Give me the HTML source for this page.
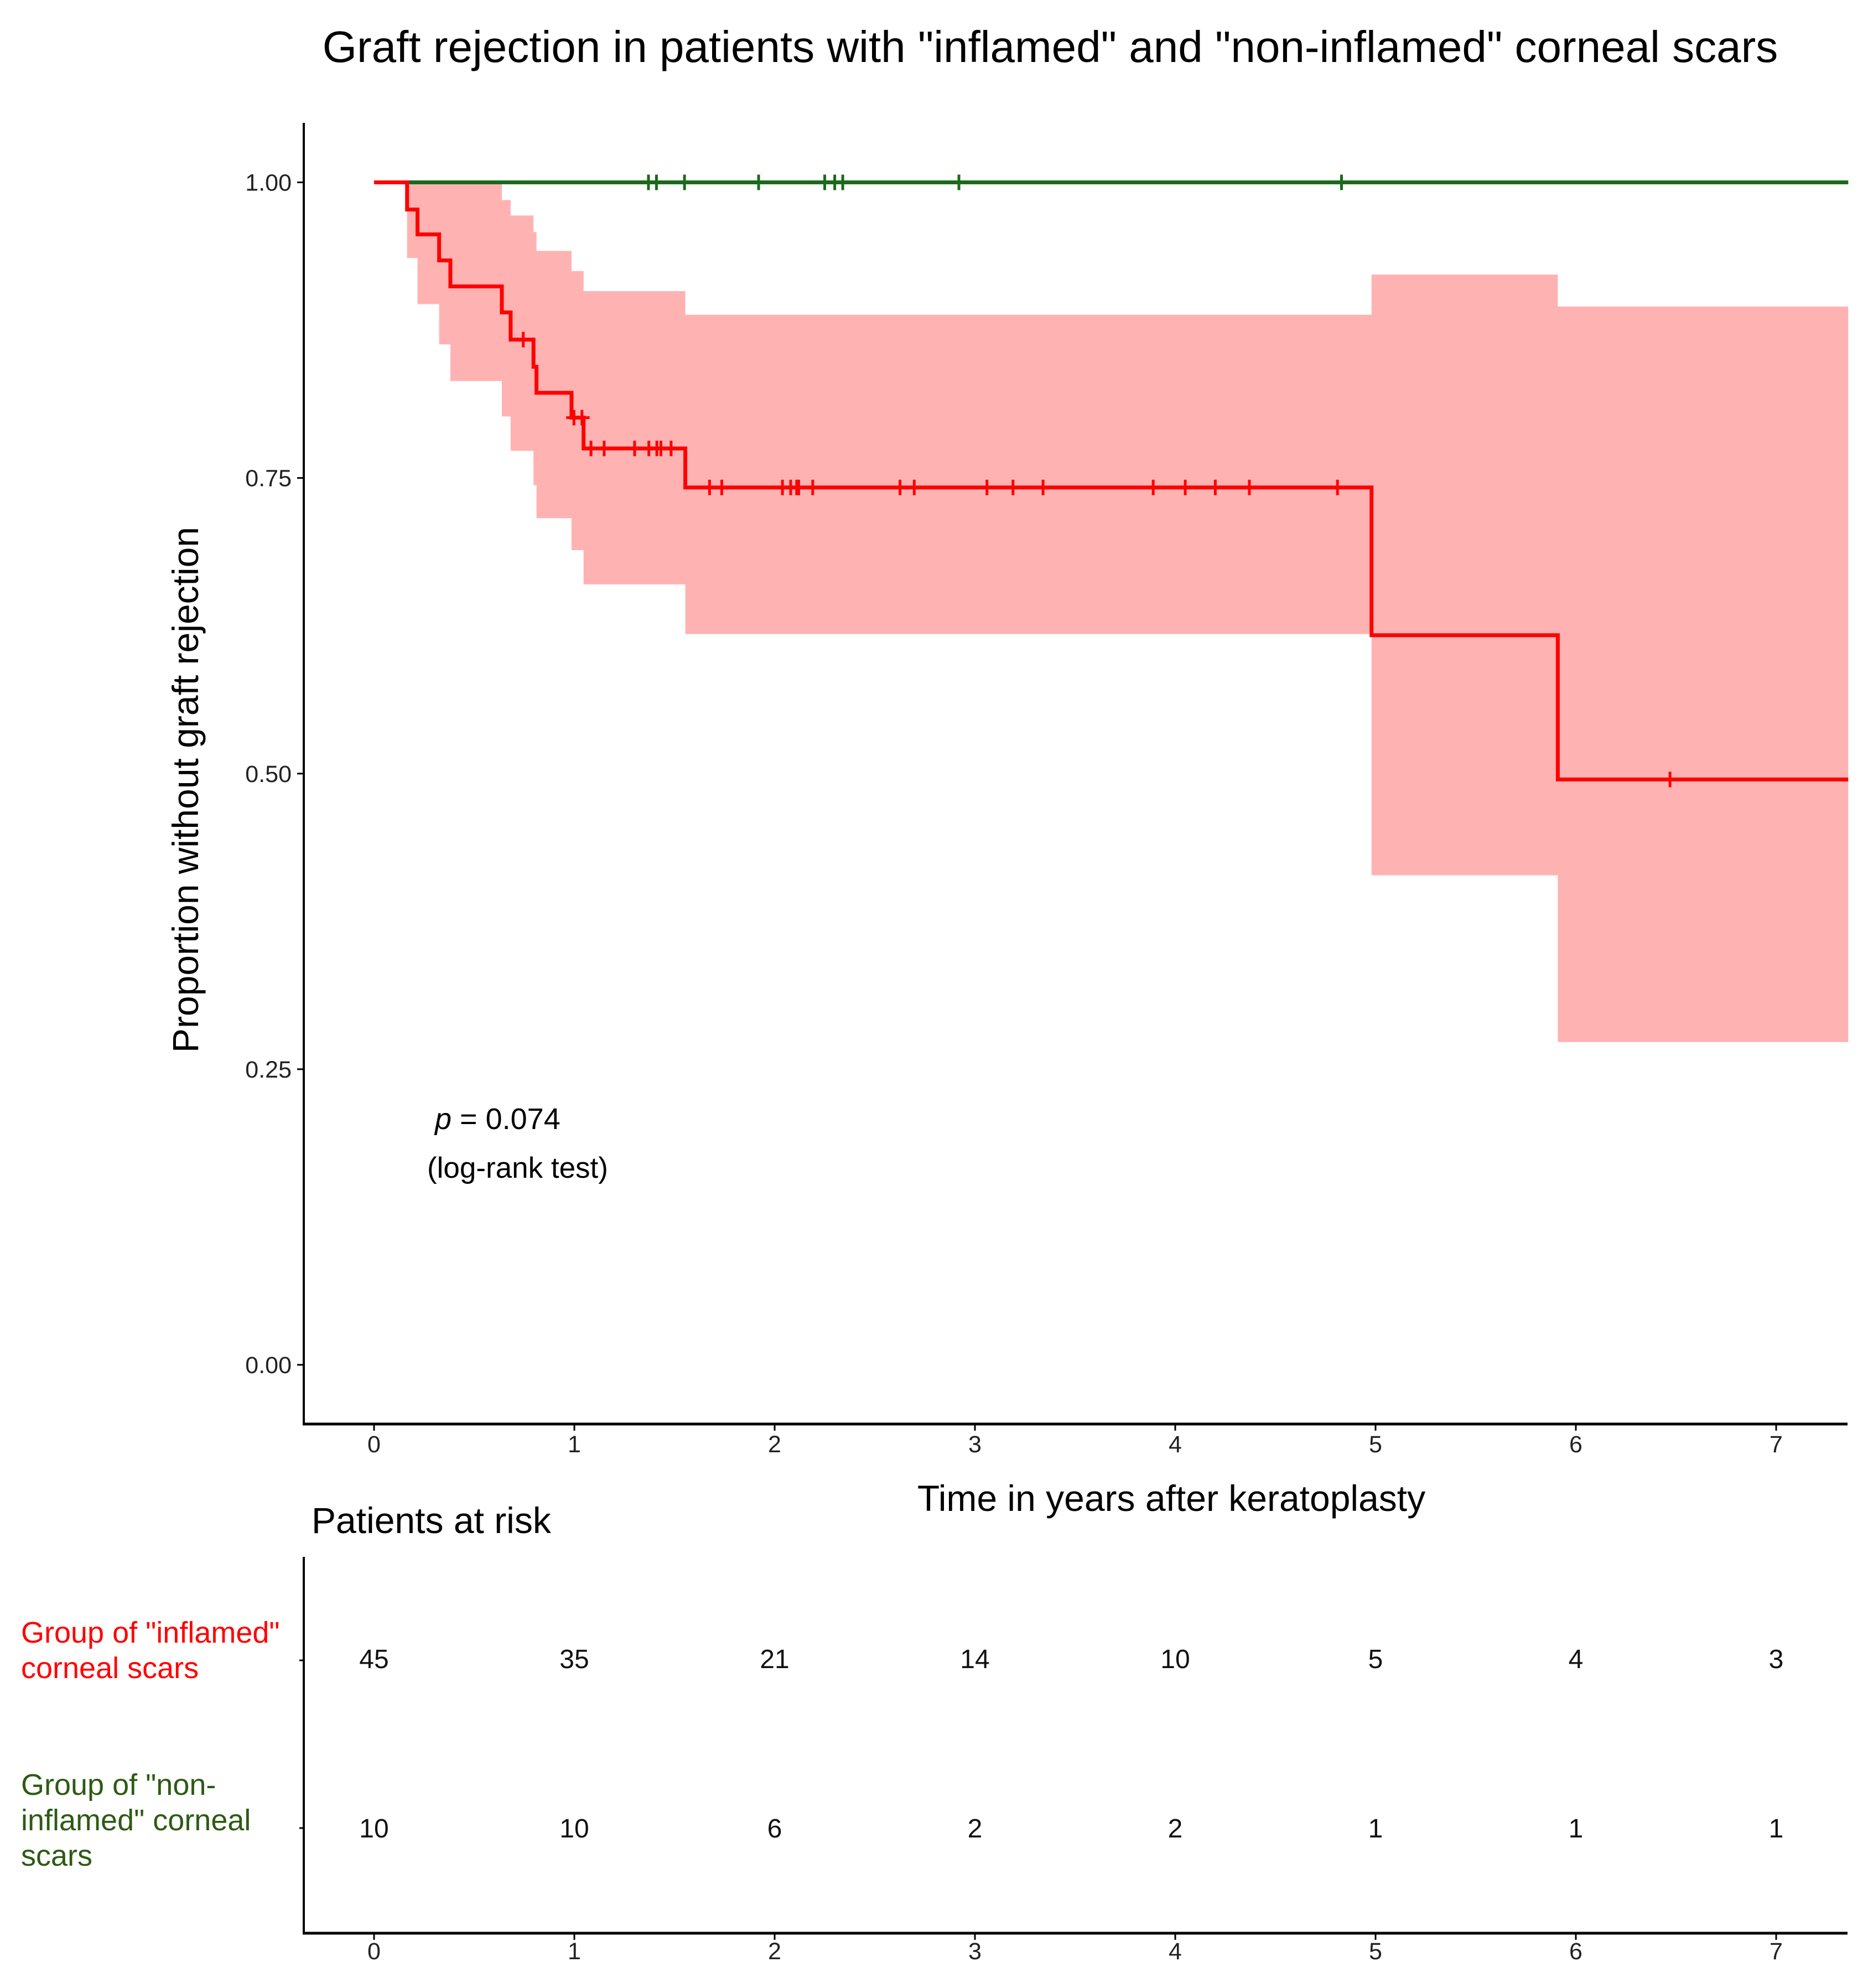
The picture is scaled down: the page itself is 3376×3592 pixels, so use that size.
<!DOCTYPE html>
<html><head><meta charset="utf-8"><style>
html,body{margin:0;padding:0;background:#fff;}
svg{display:block;font-family:"Liberation Sans",Arial,sans-serif;}
</style></head><body>
<svg id="chart" width="3376" height="3592" viewBox="0 0 3376 3592" xmlns="http://www.w3.org/2000/svg">
<text x="1898" y="112" font-size="80" text-anchor="middle">Graft rejection in patients with "inflamed" and "non-inflamed" corneal scars</text>
<g id="ci"></g>
<g id="lines"></g>
<g id="axes"></g>
<text transform="translate(358,1427) rotate(-90)" font-size="66" text-anchor="middle">Proportion without graft rejection</text>
<text x="2117" y="2730" font-size="66" text-anchor="middle">Time in years after keratoplasty</text>
<text x="786" y="2040" font-size="54"><tspan font-style="italic">p</tspan> = 0.074</text>
<text x="772" y="2128" font-size="53">(log-rank test)</text>
<text x="563" y="2770" font-size="66">Patients at risk</text>
<g fill="#ff0000" font-size="54">
<text x="38" y="2968">Group of "inflamed"</text><text x="38" y="3032">corneal scars</text></g>
<g fill="#2d5a14" font-size="54">
<text x="38" y="3243">Group of "non-</text><text x="38" y="3307">inflamed" corneal</text><text x="38" y="3371">scars</text></g>
<g id="risk"></g>
</svg>
<script>
const timeTicks = [0,1,2,3,4,5,6,7];
const yTicks = [0, 0.25, 0.5, 0.75, 1.0];
const yTickLabels = ["0.00","0.25","0.50","0.75","1.00"];
const redTimes = [0, 0.165, 0.217, 0.325, 0.381, 0.638, 0.682, 0.796, 0.811, 0.986, 1.046, 1.554, 4.98, 5.91];
const redSurv  = [1, 0.977, 0.956, 0.934, 0.912, 0.890, 0.867, 0.844, 0.822, 0.801, 0.775, 0.742, 0.617, 0.495];
const redUpper = [1, 1, 1, 1, 1, 0.985, 0.972, 0.958, 0.942, 0.925, 0.908, 0.888, 0.922, 0.895];
const redLower = [1, 0.936, 0.897, 0.863, 0.832, 0.802, 0.773, 0.744, 0.716, 0.689, 0.660, 0.618, 0.414, 0.273];
const redCensor = [0.745, 0.998, 1.038, 1.083, 1.149, 1.301, 1.372, 1.412, 1.432, 1.483, 1.675, 1.736, 2.039, 2.08, 2.11, 2.12, 2.19, 2.626, 2.697, 3.06, 3.19, 3.34, 3.89, 4.05, 4.20, 4.37, 4.81, 6.47];
const greenCensor = [1.37, 1.41, 1.55, 1.92, 2.25, 2.30, 2.34, 2.92, 4.83];
const riskInflamed = [45,35,21,14,10,5,4,3];
const riskNonInflamed = [10,10,6,2,2,1,1,1];
const tMax = 7.36;

const NS="http://www.w3.org/2000/svg";
const X = t => 676 + t*362;
const Y = s => 2466 - s*(2466-329.5);
function mk(tag, attrs, parent, text){const e=document.createElementNS(NS,tag);for(const k in attrs)e.setAttribute(k,attrs[k]);if(text!==undefined)e.textContent=text;parent.appendChild(e);return e;}
function survAt(t){let s=1;for(let i=0;i<redTimes.length;i++){if(redTimes[i]<=t)s=redSurv[i];}return s;}
const ci=document.getElementById('ci'), lines=document.getElementById('lines'), axes=document.getElementById('axes'), risk=document.getElementById('risk');

let up=[],lo=[];
for(let i=0;i<redTimes.length;i++){
  const t0=redTimes[i], t1=i+1<redTimes.length?redTimes[i+1]:tMax;
  up.push([X(t0),Y(redUpper[i])],[X(t1),Y(redUpper[i])]);
  lo.push([X(t0),Y(redLower[i])],[X(t1),Y(redLower[i])]);
}
const pts=up.concat(lo.reverse()).map(p=>p.join(',')).join(' ');
const band=mk('polygon',{points:pts,fill:'#ffb2b2',stroke:'none'},ci);



const g=mk('line',{x1:X(0),y1:Y(1),x2:X(tMax),y2:Y(1),stroke:'#1a6a1a','stroke-width':7},lines);


greenCensor.forEach(t=>{
  const c=mk('path',{d:`M${X(t)-14},${Y(1)}h28M${X(t)},${Y(1)-14}v28`,stroke:'#1a6a1a','stroke-width':5},lines);
  
  
});

let d=`M${X(redTimes[0])},${Y(redSurv[0])}`;
for(let i=1;i<redTimes.length;i++){d+=`H${X(redTimes[i])}V${Y(redSurv[i])}`;}
d+=`H${X(tMax)}`;
const r=mk('path',{d:d,fill:'none',stroke:'#ff0000','stroke-width':7},lines);


redCensor.forEach(t=>{
  const y=Y(survAt(t));
  const c=mk('path',{d:`M${X(t)-14},${y}h28M${X(t)},${y-14}v28`,stroke:'#ff0000','stroke-width':5},lines);
  
  
});

mk('line',{x1:549,y1:222,x2:549,y2:2575,stroke:'#000','stroke-width':4},axes);
mk('line',{x1:547,y1:2573,x2:3339,y2:2573,stroke:'#000','stroke-width':5},axes);
yTicks.forEach((v,i)=>{
  mk('line',{x1:537,y1:Y(v),x2:549,y2:Y(v),stroke:'#000','stroke-width':3},axes);
  const tl=mk('text',{x:527,y:Y(v)+15,'font-size':43,'text-anchor':'end',fill:'#222'},axes,yTickLabels[i]);
  
  
});
timeTicks.forEach(t=>{
  mk('line',{x1:X(t),y1:2573,x2:X(t),y2:2585,stroke:'#000','stroke-width':3},axes);
  const tl=mk('text',{x:X(t),y:2624,'font-size':43,'text-anchor':'middle',fill:'#222'},axes,String(t));
  
  
});

mk('line',{x1:549,y1:2813,x2:549,y2:3495,stroke:'#000','stroke-width':4},risk);
mk('line',{x1:547,y1:3493,x2:3339,y2:3493,stroke:'#000','stroke-width':5},risk);
mk('line',{x1:541,y1:3000,x2:549,y2:3000,stroke:'#000','stroke-width':3},risk);
mk('line',{x1:541,y1:3303,x2:549,y2:3303,stroke:'#000','stroke-width':3},risk);
timeTicks.forEach((t,i)=>{
  mk('line',{x1:X(t),y1:3493,x2:X(t),y2:3505,stroke:'#000','stroke-width':3},risk);
  const tl=mk('text',{x:X(t),y:3540,'font-size':43,'text-anchor':'middle',fill:'#222'},risk,String(t));
  
  
  const a=mk('text',{x:X(t),y:3014,'font-size':48,'text-anchor':'middle',fill:'#111'},risk,String(riskInflamed[i]));
  
  
  const b=mk('text',{x:X(t),y:3320,'font-size':48,'text-anchor':'middle',fill:'#111'},risk,String(riskNonInflamed[i]));
  
  
});
</script>
</body></html>
